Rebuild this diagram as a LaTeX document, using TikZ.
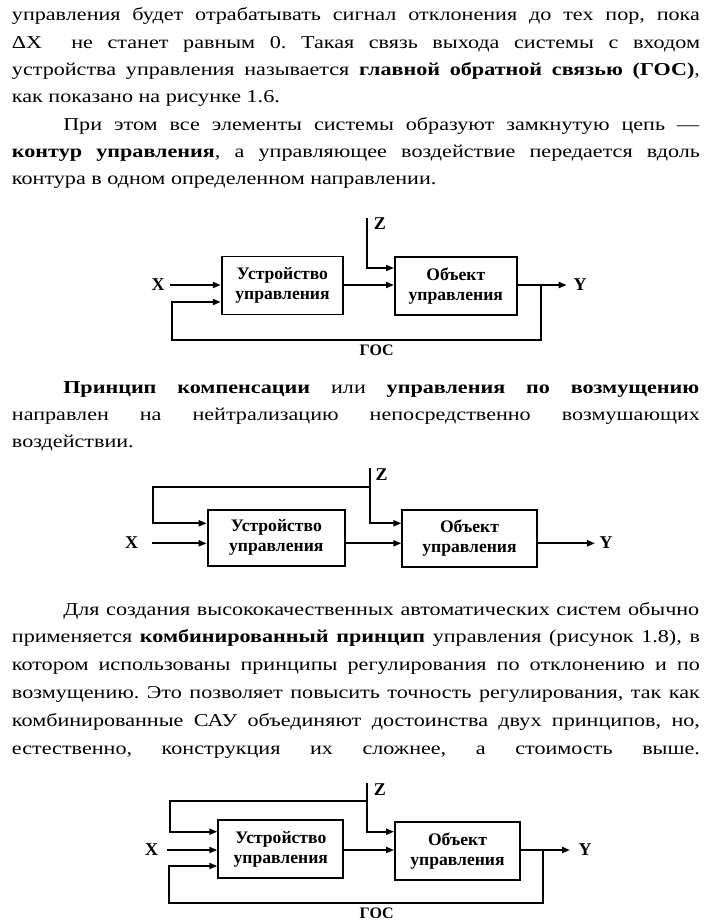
\documentclass[tikz,border=0pt]{standalone}
\usepackage{fontspec}
\setmainfont[FakeStretch=1.22]{Liberation Serif}
\newfontfamily\diafont{Liberation Serif}
\usetikzlibrary{arrows.meta}
\newcommand\jl[2][516pt]{\makebox[#1][s]{#2}}
\frenchspacing
\begin{document}
\begin{tikzpicture}[x=0.75pt,y=-0.75pt,
  txt/.style={anchor=base west,inner sep=0pt,font=\fontsize{13.6}{16}\selectfont},
  blk/.style={draw,line width=1.4pt,align=center,inner sep=0pt,
    font=\diafont\bfseries\fontsize{13.2}{15}\selectfont},
  lbl/.style={inner sep=0pt,font=\diafont\bfseries\fontsize{13.5}{15}\selectfont},
  arr/.style={line width=1.4pt,-{Triangle[length=6pt,width=4.5pt]}},
  ln/.style={line width=1.4pt}]
\fill[white] (0,0) rectangle (713,922);
\useasboundingbox (0,0) rectangle (713,922);

% ---------- paragraph 1 ----------
\node[txt] (p1a) at (11.7,20.5) {\jl{управления будет отрабатывать сигнал отклонения до тех пор, пока}};
\node[txt] (p1b) at (11.7,48) {\jl{ΔX\ \ не станет равным 0. Такая связь выхода системы с входом}};
\node[txt] (p1c) at (11.7,75.5) {\jl{устройства управления называется \textbf{главной обратной связью (ГОС)},}};
\node[txt] (p1d) at (11.7,102.5) {как показано на рисунке 1.6.};
% ---------- paragraph 2 ----------
\node[txt] (p2a) at (63,130.5) {\jl[477pt]{При этом все элементы системы образуют замкнутую цепь —}};
\node[txt] (p2b) at (11.7,157.5) {\jl{\textbf{контур управления}, а управляющее воздействие передается вдоль}};
\node[txt] (p2c) at (11.7,184.5) {контура в одном определенном направлении.};

% ---------- diagram 1 ----------
\node[blk,minimum width=91.2pt,minimum height=43.5pt] (ud1) at (282.5,285.5) {Устройство\\управления};
\node[blk,minimum width=91.3pt,minimum height=43.7pt] (ob1) at (455.8,285.8) {Объект\\управления};
\node[lbl] (X1) at (158,285) {X};
\node[lbl] (Y1) at (580,285) {Y};
\node[lbl] (Z1) at (380,224) {Z};
\node[lbl,font=\diafont\bfseries\fontsize{12}{14}\selectfont] (G1) at (376.7,350) {ГОС};
\coordinate (x1) at (170,285);
\coordinate (z1) at (367.3,218);
\coordinate (z1b) at (367.3,268);
\coordinate (y1) at (566.7,285);
\coordinate (j1) at (540.7,285);
\coordinate (f1) at (171.7,340);
\coordinate (f1b) at (171.7,302);
\draw[arr] (x1) -- (ud1.west |- x1);
\draw[arr] (ud1.east |- x1) -- (ob1.west |- x1);
\draw[arr] (z1) -- (z1b) -- (ob1.west |- z1b);
\draw[arr] (ob1.east |- y1) -- (y1);
\draw[arr] (j1) -- (j1 |- f1) -- (f1) -- (f1b) -- (ud1.west |- f1b);

% ---------- paragraph 3 ----------
\node[txt] (p3a) at (63,393) {\jl[477pt]{\textbf{Принцип компенсации} или \textbf{управления по возмущению}}};
\node[txt] (p3b) at (11.7,420.5) {\jl{направлен на нейтрализацию непосредственно возмушающих}};
\node[txt] (p3c) at (11.7,447) {воздействии.};

% ---------- diagram 2 ----------
\node[blk,minimum width=103pt,minimum height=41.8pt] (ud2) at (276.3,537.8) {Устройство\\управления};
\node[blk,minimum width=100.8pt,minimum height=42.5pt] (ob2) at (469.5,538.3) {Объект\\управления};
\node[lbl] (X2) at (131.7,543) {X};
\node[lbl] (Y2) at (606,543) {Y};
\node[lbl] (Z2) at (381.7,475) {Z};
\coordinate (x2) at (151.7,543.3);
\coordinate (z2) at (370,468.3);
\coordinate (z2m) at (370,487.3);
\coordinate (z2b) at (370,523.3);
\coordinate (t2) at (153.3,487.3);
\coordinate (t2b) at (153.3,523.3);
\coordinate (y2) at (595,543.3);
\draw[arr] (z2) -- (z2b) -- (ob2.west |- z2b);
\draw[arr] (z2m) -- (t2) -- (t2b) -- (ud2.west |- t2b);
\draw[arr] (x2) -- (ud2.west |- x2);
\draw[arr] (ud2.east |- x2) -- (ob2.west |- x2);
\draw[arr] (ob2.east |- y2) -- (y2);

% ---------- paragraph 4 ----------
\node[txt] (p4a) at (63,615) {\jl[477pt]{Для создания высококачественных автоматических систем обычно}};
\node[txt] (p4b) at (11.7,642.8) {\jl{применяется \textbf{комбинированный принцип} управления (рисунок 1.8), в}};
\node[txt] (p4c) at (11.7,670.6) {\jl{котором использованы принципы регулирования по отклонению и по}};
\node[txt] (p4d) at (11.7,698.4) {\jl{возмущению. Это позволяет повысить точность регулирования, так как}};
\node[txt] (p4e) at (11.7,726.2) {\jl{комбинированные САУ объединяют достоинства двух принципов, но,}};
\node[txt] (p4f) at (11.7,754) {\jl{естественно, конструкция их сложнее, а стоимость выше.}};

% ---------- diagram 3 ----------
\node[blk,minimum width=93.75pt,minimum height=43.7pt] (ud3) at (280.8,849.2) {Устройство\\управления};
\node[blk,minimum width=93.75pt,minimum height=43.7pt] (ob3) at (457.5,850.8) {Объект\\управления};
\node[lbl] (X3) at (151.7,850) {X};
\node[lbl] (Y3) at (585,850) {Y};
\node[lbl] (Z3) at (380,790) {Z};
\node[lbl,font=\diafont\bfseries\fontsize{12}{14}\selectfont] (G3) at (376.7,913.5) {ГОС};
\coordinate (x3) at (167.3,850);
\coordinate (z3) at (367.3,783.3);
\coordinate (z3m) at (367.3,800.7);
\coordinate (z3b) at (367.3,831.7);
\coordinate (t3) at (170,800.7);
\coordinate (t3b) at (170,831.7);
\coordinate (y3) at (570,850);
\coordinate (j3) at (542.7,850);
\coordinate (f3) at (169.3,903.3);
\coordinate (f3b) at (169.3,866);
\draw[arr] (z3) -- (z3b) -- (ob3.west |- z3b);
\draw[arr] (z3m) -- (t3) -- (t3b) -- (ud3.west |- t3b);
\draw[arr] (x3) -- (ud3.west |- x3);
\draw[arr] (ud3.east |- x3) -- (ob3.west |- x3);
\draw[arr] (ob3.east |- y3) -- (y3);
\draw[arr] (j3) -- (j3 |- f3) -- (f3) -- (f3b) -- (ud3.west |- f3b);
\end{tikzpicture}
\end{document}
